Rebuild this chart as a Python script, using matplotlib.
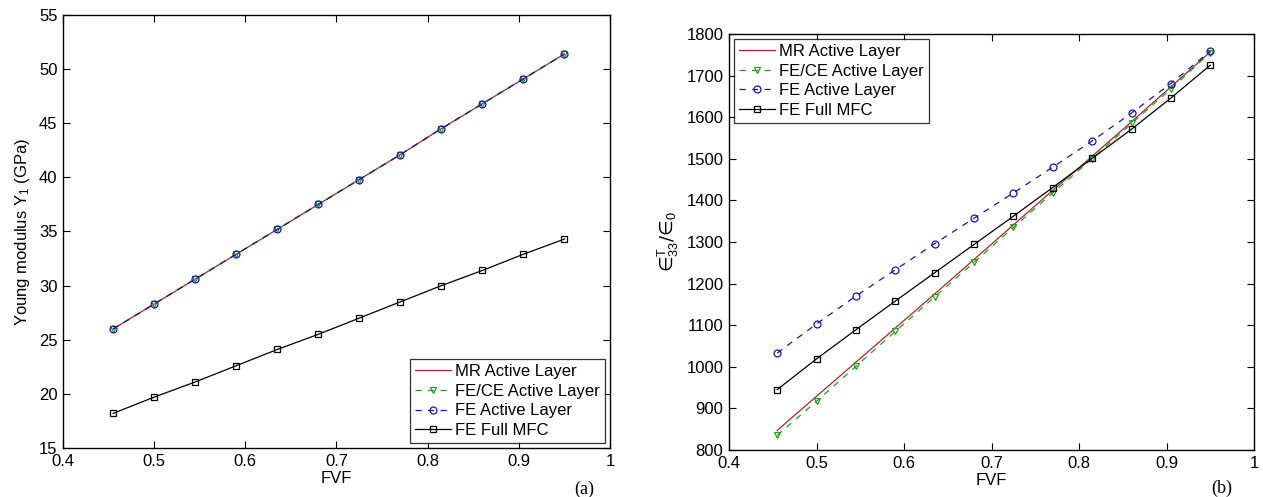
import matplotlib
matplotlib.use("Agg")
import matplotlib.pyplot as plt
from matplotlib.ticker import FixedLocator, FixedFormatter

plt.rcParams['font.family'] = ['Liberation Sans', 'DejaVu Sans']
plt.rcParams['mathtext.fontset'] = 'custom'
plt.rcParams['mathtext.rm'] = 'Liberation Sans'
plt.rcParams['mathtext.it'] = 'Liberation Sans'

fvf = [0.455, 0.5, 0.545, 0.59, 0.635, 0.68, 0.725, 0.77, 0.815, 0.86, 0.905, 0.95]

# Panel (a): Young modulus Y1 (GPa)
y_mr = [26.0, 28.3, 30.6, 32.9, 35.2, 37.5, 39.8, 42.1, 44.5, 46.8, 49.1, 51.4]
y_fece = [26.0, 28.3, 30.6, 32.9, 35.2, 37.5, 39.8, 42.1, 44.5, 46.8, 49.1, 51.4]
y_fe = [26.0, 28.3, 30.6, 32.9, 35.2, 37.5, 39.8, 42.1, 44.5, 46.8, 49.1, 51.4]
y_full = [18.2, 19.7, 21.1, 22.6, 24.1, 25.5, 27.0, 28.5, 30.0, 31.4, 32.9, 34.3]

# Panel (b): relative permittivity eps33^T / eps0
e_mr = [847, 929, 1011, 1093, 1175, 1258, 1341, 1424, 1506, 1589, 1673, 1757]
e_fece = [835, 917, 1001, 1085, 1168, 1251, 1335, 1418, 1500, 1585, 1668, 1755]
e_fe = [1033, 1103, 1170, 1233, 1296, 1357, 1418, 1480, 1543, 1610, 1681, 1759]
e_full = [945, 1019, 1089, 1158, 1226, 1294, 1362, 1431, 1501, 1571, 1646, 1725]

labels = ['MR Active Layer', 'FE/CE Active Layer', 'FE Active Layer', 'FE Full MFC']
xticks = [0.4, 0.5, 0.6, 0.7, 0.8, 0.9, 1.0]
xticklabels = ['0.4', '0.5', '0.6', '0.7', '0.8', '0.9', '1']

c_mr = '#a82828'
c_fece = '#20a020'
c_fe = '#1818a0'
c_full = '#000000'

fig = plt.figure(figsize=(12.63, 4.97), dpi=100)
W, H = 1263, 497
ax1 = fig.add_axes([63 / W, 1 - 448 / H, (610 - 63) / W, (448 - 15) / H])
ax2 = fig.add_axes([729 / W, 1 - 450 / H, (1254 - 729) / W, (450 - 34) / H])

fs = 12
ms = 5
lw = 0.9

def draw(ax, mr, fece, fe, full):
    ax.plot(fvf, mr, '-', color=c_mr, lw=lw, label=labels[0])
    ax.plot(fvf, fece, '--', color=c_fece, lw=lw, marker='v', ms=ms, mfc='none', mew=0.9,
            label=labels[1], dashes=(5, 5))
    ax.plot(fvf, fe, '--', color=c_fe, lw=lw, marker='o', ms=ms, mfc='none', mew=0.9,
            label=labels[2], dashes=(5, 5))
    ax.plot(fvf, full, '-', color=c_full, lw=lw, marker='s', ms=ms, mfc='none', mew=0.9,
            label=labels[3])
    ax.set_xlim(0.4, 1.0)
    ax.xaxis.set_major_locator(FixedLocator(xticks))
    ax.xaxis.set_major_formatter(FixedFormatter(xticklabels))
    ax.tick_params(direction='in', top=True, right=True, labelsize=fs, length=5, width=0.8)
    ax.tick_params(axis='x', pad=4.5)
    ax.tick_params(axis='y', pad=4)
    for s in ax.spines.values():
        s.set_linewidth(1.0)
    ax.set_xlabel('FVF', fontsize=fs, labelpad=1)

def add_legend(ax, loc):
    leg = ax.legend(loc=loc, fontsize=fs, frameon=True, fancybox=False,
                    edgecolor='black', borderpad=0.3, labelspacing=0.28, handlelength=2.15,
                    handletextpad=0.25, borderaxespad=0.3)
    leg.get_frame().set_linewidth(0.9)
    return leg

draw(ax1, y_mr, y_fece, y_fe, y_full)
ax1.set_ylim(15, 55)
ax1.set_yticks([15, 20, 25, 30, 35, 40, 45, 50, 55])
ax1.set_ylabel('Young modulus Y$_1$ (GPa)', fontsize=fs, labelpad=5)
add_legend(ax1, 'lower right')

draw(ax2, e_mr, e_fece, e_fe, e_full)
ax2.set_ylim(800, 1800)
ax2.set_yticks(list(range(800, 1801, 100)))
ax2.set_ylabel('\u2208$^{T}_{33}$/\u2208$_{0}$', fontsize=fs + 1, labelpad=4,
               family='DejaVu Sans')
add_legend(ax2, 'upper left')

fig.text(584 / W, 1 - 489 / H, '(a)', fontsize=13, family='Liberation Serif', ha='center', va='center')
fig.text(1222 / W, 1 - 488 / H, '(b)', fontsize=13, family='Liberation Serif', ha='center', va='center')

fig.savefig('out.png', dpi=100)
